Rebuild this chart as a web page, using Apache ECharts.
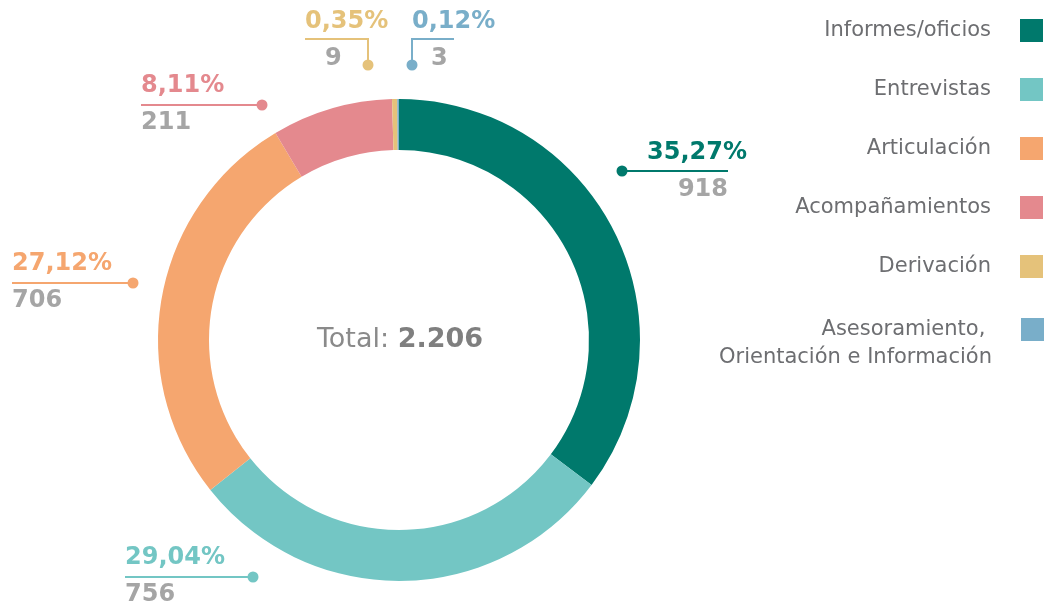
<!DOCTYPE html>
<html>
<head>
<meta charset="utf-8">
<script src="https://cdn.jsdelivr.net/npm/echarts@6/dist/echarts.min.js"></script>
<style>
  html, body { margin: 0; padding: 0; background: #fff; }
  #chartsDisplay { width: 1052px; height: 612px; }
</style>
</head>
<body>
<div id="chartsDisplay"></div>
<script>
var categorias = ['Informes/oficios', 'Entrevistas', 'Articulación', 'Acompañamientos', 'Derivación', 'Asesoramiento, \nOrientación e Información'];
var valores = [918, 756, 706, 211, 9, 3];
var colores = ['#00796c', '#73c6c4', '#f5a66f', '#e4898e', '#e5c27a', '#79aec9'];
var totalTexto = '2.206';

// donde va cada etiqueta, su linea y su punto
var etiquetas = [
    { x: 747, y: 171, align: 'right', valPad: [0, 19, 0, 0], linea: [[622, 171], [680, 171], [728, 171]], punto: [622, 171] },
    { x: 125, y: 576, align: 'left', valPad: 0, linea: [[125, 577], [190, 577], [253, 577]], punto: [253, 577] },
    { x: 12, y: 282, align: 'left', valPad: 0, linea: [[12, 283], [70, 283], [133, 283]], punto: [133, 283] },
    { x: 141, y: 104, align: 'left', valPad: 0, linea: [[141, 105], [200, 105], [262, 105]], punto: [262, 105] },
    { x: 305, y: 40, align: 'left', valPad: [0, 0, 0, 20], linea: [[305, 39], [368, 39], [368, 65]], punto: [368, 65] },
    { x: 412, y: 40, align: 'left', valPad: [0, 0, 0, 19], linea: [[412, 65], [412, 39], [454, 39]], punto: [412, 65] }
];

var fuente = 'DejaVu Sans';
var suma = valores.reduce(function (a, b) { return a + b; }, 0);
var myChart = echarts.init(document.getElementById('chartsDisplay'));

var datos = valores.map(function (v, i) {
    return {
        name: categorias[i],
        value: v,
        itemStyle: { color: colores[i] },
        label: {
            color: colores[i],
            rich: { val: { padding: etiquetas[i].valPad } }
        }
    };
});

var puntos = etiquetas.map(function (e, i) {
    return {
        type: 'circle',
        shape: { cx: e.punto[0], cy: e.punto[1], r: 5.5 },
        style: { fill: colores[i] },
        z: 100
    };
});

var leyendaTexto = {
    fontFamily: fuente,
    fontSize: 21,
    color: '#6d6e71',
    lineHeight: 28,
    padding: [0, 24, 0, 0]
};

var option = {
    animation: false,
    legend: [
        {
            data: categorias.slice(0, 5),
            orient: 'vertical',
            align: 'right',
            right: 9,
            top: 16.5,
            padding: 0,
            icon: 'rect',
            itemWidth: 23,
            itemHeight: 23,
            itemGap: 31,
            selectedMode: false,
            textStyle: leyendaTexto
        },
        {
            // linea vacia arriba para que el icono quede a la altura de la primera linea
            data: categorias.slice(5),
            orient: 'vertical',
            align: 'right',
            right: 8,
            top: 287.5,
            padding: 0,
            icon: 'rect',
            itemWidth: 23,
            itemHeight: 23,
            selectedMode: false,
            formatter: function (name) { return '\n' + name; },
            textStyle: leyendaTexto
        }
    ],
    graphic: [
        {
            type: 'text',
            x: 400,
            y: 340,
            style: {
                text: '{a|Total: }{b|' + totalTexto + '}',
                align: 'center',
                verticalAlign: 'middle',
                rich: {
                    a: { fontFamily: fuente, fontSize: 27, fill: '#8a8a8a' },
                    b: { fontFamily: fuente, fontSize: 27, fontWeight: 'bold', fill: '#7f7f7f' }
                }
            }
        }
    ].concat(puntos),
    series: [
        {
            type: 'pie',
            center: [399, 340],
            radius: [190, 241],
            startAngle: 90,
            clockwise: true,
            avoidLabelOverlap: false,
            label: {
                show: true,
                position: 'outside',
                formatter: function (p) {
                    var pct = (p.value / suma * 100).toFixed(2).replace('.', ',');
                    return '{pct|' + pct + '%}\n{val|' + p.value + '}';
                },
                rich: {
                    pct: { fontFamily: fuente, fontSize: 24, fontWeight: 'bold', lineHeight: 37 },
                    val: { fontFamily: fuente, fontSize: 24, fontWeight: 'bold', lineHeight: 37, color: '#a5a5a5' }
                }
            },
            labelLine: { show: true, lineStyle: { width: 2 } },
            labelLayout: function (params) {
                var e = etiquetas[params.dataIndex];
                return {
                    x: e.x,
                    y: e.y,
                    align: e.align,
                    verticalAlign: 'middle',
                    labelLinePoints: e.linea
                };
            },
            emphasis: { disabled: true },
            data: datos
        }
    ]
};

myChart.setOption(option);
</script>
</body>
</html>
